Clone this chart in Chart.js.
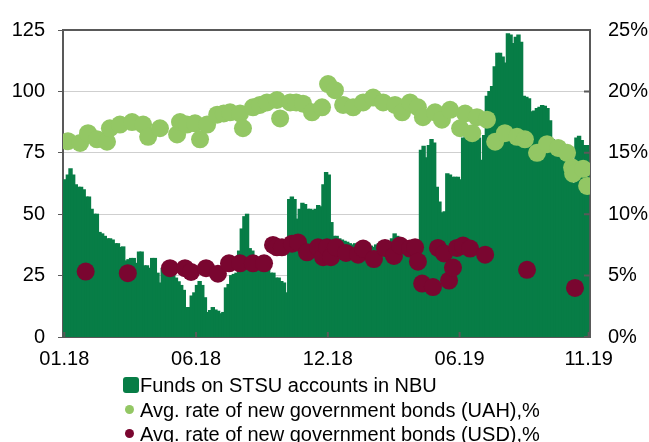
<!DOCTYPE html>
<html>
<head>
<meta charset="utf-8">
<script src="https://cdn.jsdelivr.net/npm/chart.js@4.4.1/dist/chart.umd.min.js"></script>
<style>
  body { margin: 0; background: #fff; }
  #wrap { position: relative; width: 649px; height: 442px; overflow: hidden; }
  #legend { position: absolute; left: 0; top: 0; font: 20px "Liberation Sans", Arial, sans-serif; color: #000; }
  .row { position: absolute; left: 140px; height: 24px; line-height: 24px; white-space: nowrap; }
  .mark { position: absolute; }
</style>
</head>
<body>
<div id="wrap">
  <canvas id="chart" width="649" height="442"></canvas>
  <div id="legend"></div>
</div>
<script>
// x axis tick labels and the trading-day index they sit on
const tickLabels = ["01.18", "06.18", "12.18", "06.19", "11.19"];
const tickAt = [0, 50, 100, 150, 199];

// funds on STSU accounts in NBU, UAH bn (one bar per sampled day)
const funds = [
  63, 64, 66, 68.5, 66, 62, 61, 61, 60, 57,
  57, 52, 50, 50, 42.6, 42, 41, 40, 40, 39.5,
  38, 38, 36.5, 36.7, 31, 31.5, 32, 32, 30, 34.6,
  34.6, 29, 29, 28, 32, 32, 26, 22, 28, 28,
  26, 26, 25, 24, 22.5, 21, 19, 12, 12, 16.7,
  18, 21, 22.6, 21, 16, 10, 10.8, 12, 11, 10.5,
  9.5, 10, 20, 21.4, 25, 25.5, 26, 35, 44, 49,
  50, 36, 35, 33, 32, 30, 30, 29, 28, 26,
  26, 24, 24, 22.6, 22, 18, 56, 57, 56, 48,
  52, 54.5, 54, 52, 52, 51.5, 52, 53.5, 53, 62,
  67, 66, 46.6, 41, 41, 40, 39.5, 39, 38.6, 38,
  37.5, 38, 37, 38, 37.5, 37, 38, 37, 36.5, 37.5,
  38, 37, 38.5, 39, 38, 40, 42, 41, 38, 37.5,
  37, 38, 37, 36, 34.6, 29, 76, 77.7, 73, 78,
  80.4, 79, 61, 55, 50.6, 51, 66.5, 66, 65, 65,
  65, 64, 81, 82, 82, 81, 82, 82, 81, 72,
  82, 98, 100, 102, 110, 115.5, 115.5, 114, 111.6, 123.5,
  123, 119.5, 122, 123, 120, 98, 97.6, 97, 91.7, 92,
  93, 93.5, 94.3, 94, 93, 88, 80.4, 80, 80, 76,
  74, 74, 72, 63, 62.5, 81, 81.7, 80, 78, 78
];

// auctions: day index and average rate, %
const uahDay = [1.4, 6, 9, 12.4, 16.2, 17.3, 21.1, 25.7, 29.9, 31.8, 36.3, 42.8, 43.9, 46.5, 49.6, 51.5, 54.2, 58,
  60.5, 62.9, 66.7, 67.8, 71.6, 74.2, 76.9, 80.7, 81.9, 85.7, 88, 90.6, 94, 97.8, 100.1, 102.7, 105.8, 109.6,
  113.4, 117.2, 121, 125.5, 128.2, 131.2, 134.2, 136.1, 140.7, 143.3, 146.4, 150.2, 152.1, 154.8, 156.6, 160.4,
  163.5, 167.2, 171.8, 174.8, 179.4, 183.2, 187.4, 190.8, 192.7, 193.1, 196.9, 198.4];
const uahRate = [15.95, 15.8, 16.6, 16.1, 15.9, 17.0, 17.3, 17.5, 17.3, 16.3, 17.0, 16.5, 17.5, 17.3, 17.4, 16.1, 17.3, 18.1,
  18.2, 18.3, 18.2, 17.0, 18.7, 18.9, 19.1, 19.3, 17.8, 19.1, 19.1, 19.0, 18.3, 18.7, 20.6, 20.1, 18.9, 18.7,
  19.1, 19.5, 19.1, 18.9, 18.3, 19.1, 18.7, 17.9, 18.3, 17.7, 18.5, 17.0, 18.2, 16.6, 17.9, 17.7,
  15.9, 16.6, 16.3, 16.1, 15.0, 15.7, 15.4, 15.0, 13.8, 13.3, 13.7, 12.3];

const usdDay = [8.1, 24.1, 40.1, 45.8, 48.1, 53.8, 58.3, 62.5, 66.7, 71.6, 75.8, 79.2, 80.7, 82.6, 86.4, 88.7, 92.1,
  96.3, 98.2, 99.7, 101.2, 103.1, 106.9, 111.5, 113.4, 117.5, 121.7, 125.1, 127.4, 131.2, 133.1, 134.2, 135.8,
  139.9, 141.8, 144.1, 146, 147.5, 149, 151.3, 154, 159.7, 175.6, 193.8];
const usdRate = [5.33, 5.2, 5.6, 5.6, 5.3, 5.6, 5.15, 6.0, 6.0, 6.0, 6.0, 7.5, 7.3, 7.3, 7.6, 7.7, 6.9,
  7.3, 6.5, 7.3, 6.5, 7.3, 6.85, 6.7, 7.2, 6.35, 7.25, 6.6, 7.46, 7.2, 7.3, 6.13, 4.35,
  4.07, 7.25, 6.8, 4.6, 5.65, 7.25, 7.46, 7.2, 6.7, 5.47, 4.0];

const labels = funds.map((v, i) => {
  const k = tickAt.indexOf(i);
  return k >= 0 ? tickLabels[k] : "";
});

const colors = { funds: "#077d46", uah: "#93c764", usd: "#7a0630", axis: "#595959", grid: "#cfcfcf" };
const font = { family: '"Liberation Sans", Arial, sans-serif', size: 20 };

const frame = {
  id: "frame",
  afterDraw(chart) {
    const { ctx, chartArea } = chart;
    const x = chart.scales.x, y1 = chart.scales.y1;
    ctx.save();
    ctx.strokeStyle = colors.axis;
    ctx.lineWidth = 2;
    ctx.beginPath();
    ctx.moveTo(chartArea.left - 1, chartArea.top);
    ctx.lineTo(chartArea.right + 1, chartArea.top);
    // inward tick marks on the right and bottom axes
    y1.ticks.forEach((t) => {
      const py = y1.getPixelForValue(t.value);
      ctx.moveTo(chartArea.right - 6, py);
      ctx.lineTo(chartArea.right, py);
    });
    tickAt.forEach((i) => {
      const px = x.getPixelForValue(i);
      ctx.moveTo(px, chartArea.bottom);
      ctx.lineTo(px, chartArea.bottom - 5);
    });
    ctx.stroke();
    ctx.restore();
  },
};

const chart = new Chart(document.getElementById("chart"), {
  type: "bar",
  data: {
    labels: labels,
    datasets: [
      {
        label: "Funds on STSU accounts in NBU",
        data: funds,
        backgroundColor: colors.funds,
        borderWidth: 0,
        barThickness: 3.4,
        inflateAmount: 0.5,
        yAxisID: "y",
        order: 3,
      },
      {
        type: "scatter",
        label: "Avg. rate of new government bonds (UAH),%",
        data: uahDay.map((d, i) => ({ x: d, y: uahRate[i] })),
        backgroundColor: colors.uah,
        borderWidth: 0,
        pointRadius: 9,
        pointHoverRadius: 9,
        xAxisID: "x2",
        yAxisID: "y1",
        order: 2,
      },
      {
        type: "scatter",
        label: "Avg. rate of new government bonds (USD),%",
        data: usdDay.map((d, i) => ({ x: d, y: usdRate[i] })),
        backgroundColor: colors.usd,
        borderWidth: 0,
        pointRadius: 9,
        pointHoverRadius: 9,
        xAxisID: "x2",
        yAxisID: "y1",
        order: 1,
      },
    ],
  },
  options: {
    responsive: false,
    animation: false,
    devicePixelRatio: 1,
    events: [],
    layout: { padding: { top: 24, bottom: 65, left: 0, right: 0 } },
    plugins: { legend: { display: false }, tooltip: { enabled: false } },
    scales: {
      x: {
        type: "category",
        offset: true,
        grid: { display: true, drawOnChartArea: false, drawTicks: false, offset: false },
        border: { display: true, color: colors.axis, width: 2 },
        ticks: { autoSkip: false, maxRotation: 0, color: "#000", font: font, padding: 10 },
        afterFit(s) { s.height = 40; },
      },
      x2: {
        type: "linear",
        display: false,
        offset: false,
        min: -0.5,
        max: funds.length - 0.5,
        grid: { offset: false },
      },
      y: {
        position: "left",
        min: 0,
        max: 125,
        ticks: { stepSize: 25, color: "#000", font: font, padding: 13 },
        grid: { color: colors.grid, tickColor: colors.axis, tickLength: 5, lineWidth: 1 },
        border: { display: true, color: colors.axis, width: 2 },
        afterFit(s) { s.width = 63; },
      },
      y1: {
        position: "right",
        min: 0,
        max: 25,
        ticks: { stepSize: 5, color: "#000", font: font, padding: 18, callback: (v) => v + "%" },
        grid: { drawOnChartArea: false, drawTicks: false },
        border: { display: true, color: colors.axis, width: 2 },
        afterFit(s) { s.width = 59; },
      },
    },
  },
  plugins: [frame],
});

// legend under the chart
const legend = document.getElementById("legend");
chart.data.datasets.forEach((ds, k) => {
  const top = 373 + k * 24.5;
  const row = document.createElement("div");
  row.className = "row";
  row.style.top = top + "px";
  row.textContent = ds.label;
  legend.appendChild(row);
  const m = document.createElement("div");
  m.className = "mark";
  m.style.background = ds.backgroundColor;
  if (k === 0) {
    Object.assign(m.style, { left: "123px", top: top + 4 + "px", width: "16px", height: "16px", borderRadius: "3px" });
  } else {
    Object.assign(m.style, { left: "125px", top: top + 7 + "px", width: "9px", height: "9px", borderRadius: "50%" });
  }
  legend.appendChild(m);
});
</script>
</body>
</html>
